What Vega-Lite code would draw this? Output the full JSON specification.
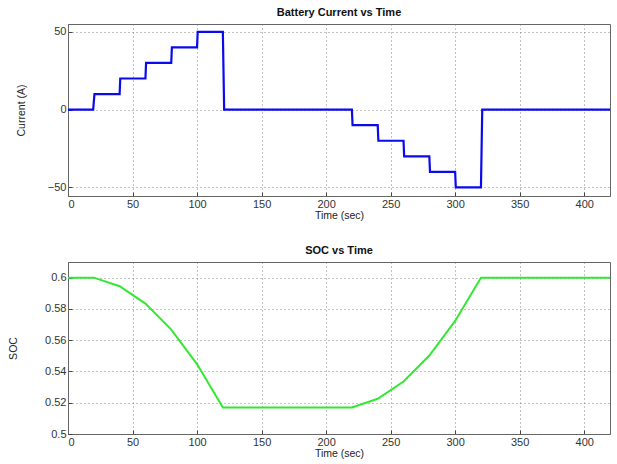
{
  "$schema": "https://vega.github.io/schema/vega-lite/v6.json",
  "autosize": {"type": "pad"},
  "padding": {"left": 7, "top": 6, "right": 4, "bottom": 5},
  "background": "white",
  "datasets": {
    "current": [
      {"t": 0, "i": 0}, {"t": 19.5, "i": 0}, {"t": 20, "i": 5}, {"t": 20.5, "i": 10}, {"t": 40, "i": 10},
      {"t": 40.5, "i": 20}, {"t": 60, "i": 20}, {"t": 60.5, "i": 30}, {"t": 80, "i": 30},
      {"t": 80.5, "i": 40}, {"t": 100, "i": 40}, {"t": 100.5, "i": 50}, {"t": 120, "i": 50},
      {"t": 120.5, "i": 25}, {"t": 121, "i": 0}, {"t": 220, "i": 0}, {"t": 220.5, "i": -10}, {"t": 240, "i": -10},
      {"t": 240.5, "i": -20}, {"t": 260, "i": -20}, {"t": 260.5, "i": -30}, {"t": 280, "i": -30},
      {"t": 280.5, "i": -40}, {"t": 300, "i": -40}, {"t": 300.5, "i": -50}, {"t": 320, "i": -50},
      {"t": 320.5, "i": -25}, {"t": 321, "i": 0}, {"t": 420, "i": 0}
    ],
    "soc": [
      {"t": 0, "soc": 0.6}, {"t": 20, "soc": 0.6}, {"t": 40, "soc": 0.5945}, {"t": 60, "soc": 0.5834},
      {"t": 80, "soc": 0.5668}, {"t": 100, "soc": 0.5447}, {"t": 120, "soc": 0.517}, {"t": 220, "soc": 0.517},
      {"t": 240, "soc": 0.5225}, {"t": 260, "soc": 0.5336}, {"t": 280, "soc": 0.5502}, {"t": 300, "soc": 0.5723},
      {"t": 320, "soc": 0.6}, {"t": 420, "soc": 0.6}
    ]
  },
  "config": {
    "font": "Liberation Sans",
    "view": {"stroke": "#666", "strokeWidth": 1},
    "axis": {
      "labelFont": "Liberation Sans",
      "labelFontSize": 11,
      "labelColor": "#333",
      "titleFont": "Liberation Sans",
      "titleFontSize": 10.5,
      "titleFontWeight": "normal",
      "titleColor": "#222",
      "domainColor": "#666",
      "tickColor": "#444",
      "tickSize": -4,
      "gridColor": "#777",
      "gridDash": [1, 3],
      "gridOpacity": 0.9,
      "labelPadding": 6
    },
    "title": {"font": "Liberation Sans", "fontSize": 11, "fontWeight": "bold", "color": "#111", "offset": 6}
  },
  "vconcat": [
    {
      "width": 542,
      "height": 172,
      "title": "Battery Current vs Time",
      "data": {"name": "current"},
      "mark": {"type": "line", "color": "#0a0aee", "strokeWidth": 2.2, "interpolate": "linear"},
      "encoding": {
        "x": {"field": "t", "type": "quantitative", "scale": {"domain": [0, 420], "nice": false},
              "axis": {"values": [0, 50, 100, 150, 200, 250, 300, 350, 400], "title": "Time (sec)", "titlePadding": 1, "labelPadding": 6}},
        "y": {"field": "i", "type": "quantitative", "scale": {"domain": [-55.5, 55], "nice": false},
              "axis": {"values": [-50, 0, 50], "title": "Current (A)", "titleX": -47, "titleY": 86, "titleBaseline": "middle", "titleAngle": 270}}
      }
    },
    {
      "width": 542,
      "height": 172,
      "title": "SOC vs Time",
      "data": {"name": "soc"},
      "mark": {"type": "line", "color": "#33e833", "strokeWidth": 2},
      "encoding": {
        "x": {"field": "t", "type": "quantitative", "scale": {"domain": [0, 420], "nice": false},
              "axis": {"values": [0, 50, 100, 150, 200, 250, 300, 350, 400], "title": "Time (sec)", "titlePadding": 1, "labelPadding": 6}},
        "y": {"field": "soc", "type": "quantitative", "scale": {"domain": [0.5, 0.61], "nice": false},
              "axis": {"values": [0.5, 0.52, 0.54, 0.56, 0.58, 0.6], "format": ".2~f", "title": "SOC", "titleX": -55, "titleY": 86, "titleBaseline": "middle", "titleAngle": 270}}
      }
    }
  ],
  "spacing": 66,
  "bounds": "flush"
}
